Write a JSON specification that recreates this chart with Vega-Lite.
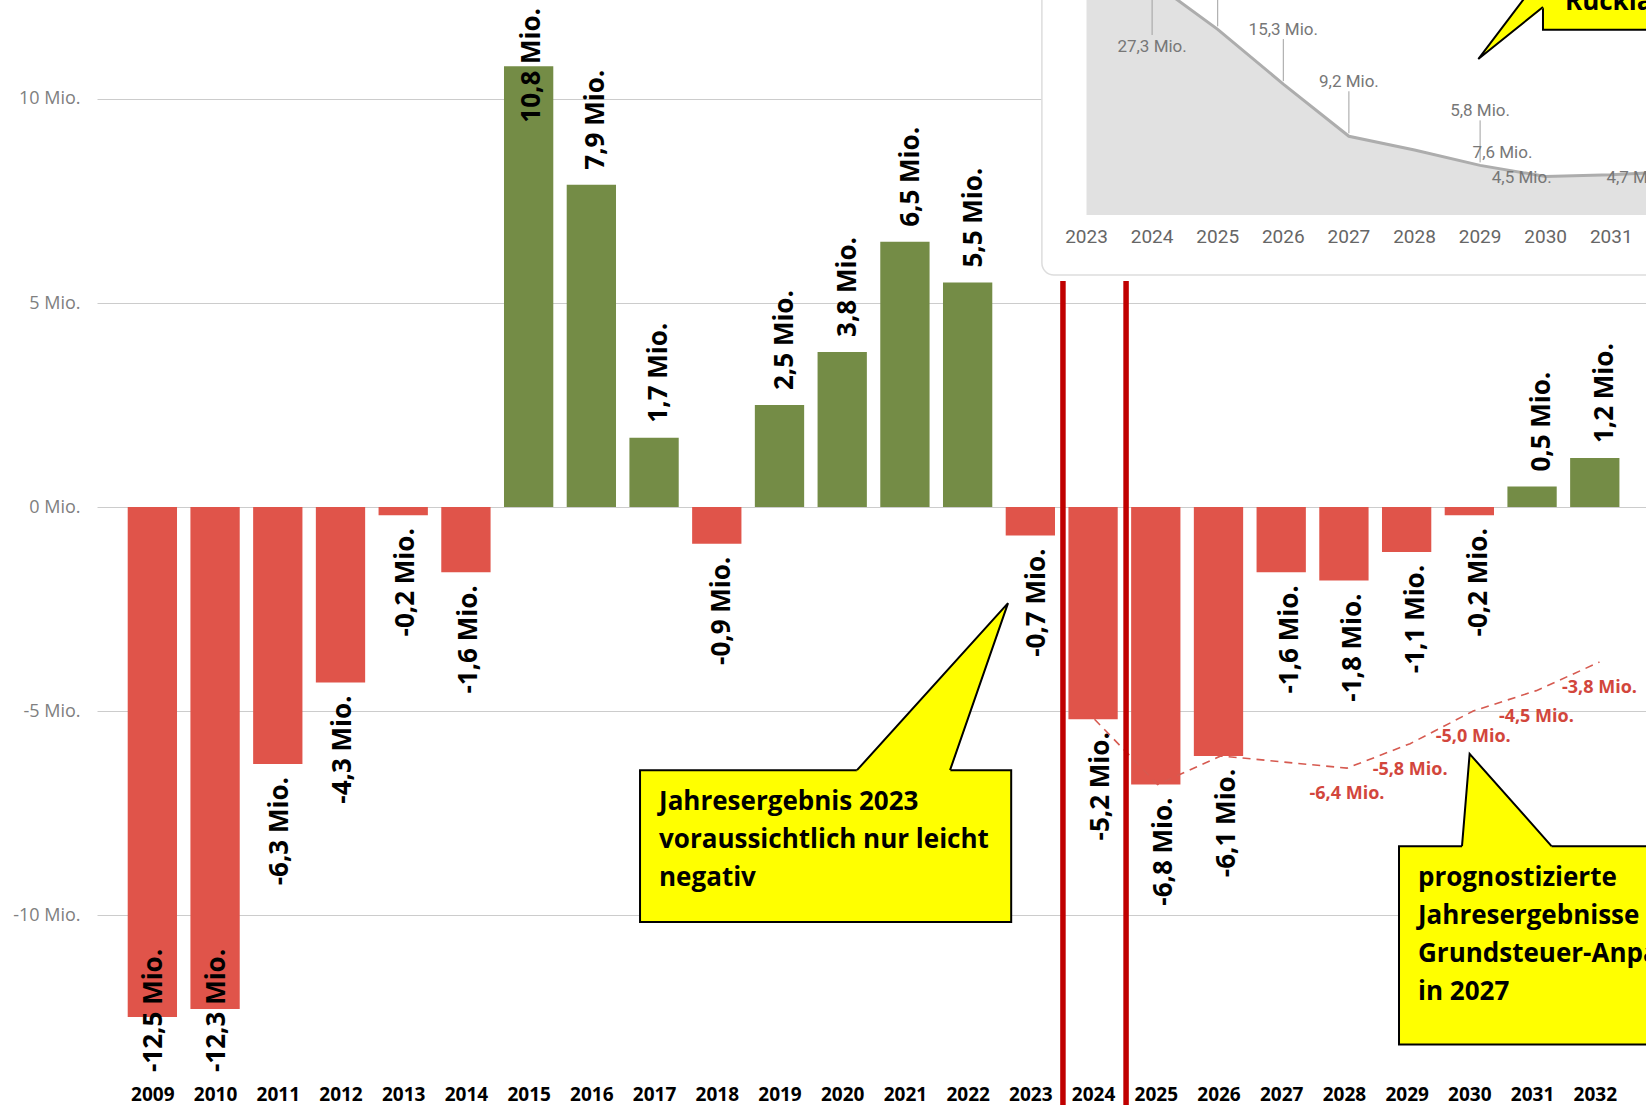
{
  "$schema": "https://vega.github.io/schema/vega-lite/v6.json",
  "width": 1549,
  "height": 1075,
  "padding": {"left": 97, "top": 0, "right": 0, "bottom": 30},
  "autosize": {"type": "none"},
  "background": "white",
  "config": {"view": {"stroke": null}},
  "datasets": {
    "bars": [
      {"year": 2009, "v": -12.5, "label": "-12,5 Mio."},
      {"year": 2010, "v": -12.3, "label": "-12,3 Mio."},
      {"year": 2011, "v": -6.3, "label": "-6,3 Mio."},
      {"year": 2012, "v": -4.3, "label": "-4,3 Mio."},
      {"year": 2013, "v": -0.2, "label": "-0,2 Mio."},
      {"year": 2014, "v": -1.6, "label": "-1,6 Mio."},
      {"year": 2015, "v": 10.8, "label": "10,8 Mio."},
      {"year": 2016, "v": 7.9, "label": "7,9 Mio."},
      {"year": 2017, "v": 1.7, "label": "1,7 Mio."},
      {"year": 2018, "v": -0.9, "label": "-0,9 Mio."},
      {"year": 2019, "v": 2.5, "label": "2,5 Mio."},
      {"year": 2020, "v": 3.8, "label": "3,8 Mio."},
      {"year": 2021, "v": 6.5, "label": "6,5 Mio."},
      {"year": 2022, "v": 5.5, "label": "5,5 Mio."},
      {"year": 2023, "v": -0.7, "label": "-0,7 Mio."},
      {"year": 2024, "v": -5.2, "label": "-5,2 Mio."},
      {"year": 2025, "v": -6.8, "label": "-6,8 Mio."},
      {"year": 2026, "v": -6.1, "label": "-6,1 Mio."},
      {"year": 2027, "v": -1.6, "label": "-1,6 Mio."},
      {"year": 2028, "v": -1.8, "label": "-1,8 Mio."},
      {"year": 2029, "v": -1.1, "label": "-1,1 Mio."},
      {"year": 2030, "v": -0.2, "label": "-0,2 Mio."},
      {"year": 2031, "v": 0.5, "label": "0,5 Mio."},
      {"year": 2032, "v": 1.2, "label": "1,2 Mio."}
    ],
    "forecast": [
      {"year": 2024, "v": -5.2, "label": null},
      {"year": 2025, "v": -6.8, "label": null},
      {"year": 2026, "v": -6.1, "label": null},
      {"year": 2027, "v": -6.25, "label": null},
      {"year": 2028, "v": -6.4, "label": "-6,4 Mio."},
      {"year": 2029, "v": -5.8, "label": "-5,8 Mio."},
      {"year": 2030, "v": -5.0, "label": "-5,0 Mio."},
      {"year": 2031, "v": -4.5, "label": "-4,5 Mio."},
      {"year": 2032, "v": -3.8, "label": "-3,8 Mio."}
    ],
    "inset": [
      {"year": 2023, "v": 33.5, "label": null, "grp": "none"},
      {"year": 2024, "v": 27.3, "label": "27,3 Mio.", "grp": "top"},
      {"year": 2025, "v": 21.7, "label": "21,7 Mio.", "grp": "above"},
      {"year": 2026, "v": 15.3, "label": "15,3 Mio.", "grp": "above"},
      {"year": 2027, "v": 9.2, "label": "9,2 Mio.", "grp": "above"},
      {"year": 2028, "v": 7.6, "label": "7,6 Mio.", "grp": "right"},
      {"year": 2029, "v": 5.8, "label": "5,8 Mio.", "grp": "above"},
      {"year": 2030, "v": 4.5, "label": "4,5 Mio.", "grp": "left"},
      {"year": 2031, "v": 4.7, "label": "4,7 Mio.", "grp": "near"},
      {"year": 2032, "v": 5.1, "label": "5,1 Mio.", "grp": "above"}
    ],
    "insetbox": [{"x1": 2022.32, "x2": 2034, "y1": -7.01, "y2": 30}],
    "rules": [{"x": 2023.5}, {"x": 2024.5}],
    "callouts": [
      {"id": 1, "x1": 2016.8, "x2": 2022.68, "top": -6.45, "bottom": -10.17, "text": "Jahresergebnis 2023\nvoraussichtlich nur leicht\nnegativ"},
      {"id": 2, "x1": 2028.824, "x2": 2034.5, "top": -8.313, "bottom": -13.17, "text": "prognostizierte\nJahresergebnisse\nGrundsteuer-Anpassung\nin 2027"},
      {"id": 3, "x1": 2031.105, "x2": 2034.5, "top": 13.5, "bottom": 11.697, "text": "Rücklagen"}
    ],
    "ptrfill": [
      {"id": 1, "x": 2020.237, "y": -6.45, "y2": -6.5},
      {"id": 1, "x": 2021.711, "y": -3.927, "y2": -6.5},
      {"id": 1, "x": 2022.63, "y": -2.354, "y2": -2.354},
      {"id": 2, "x": 2029.822, "y": -8.31, "y2": -8.36},
      {"id": 2, "x": 2029.943, "y": -6.05, "y2": -8.36},
      {"id": 2, "x": 2031.24, "y": -8.31, "y2": -8.36},
      {"id": 3, "x": 2030.08, "y": 10.978, "y2": 10.978},
      {"id": 3, "x": 2031.15, "y": 13.15, "y2": 12.27}
    ],
    "ptrline": [
      {"id": 1, "i": 0, "x": 2020.237, "y": -6.45},
      {"id": 1, "i": 1, "x": 2022.63, "y": -2.354},
      {"id": 1, "i": 2, "x": 2021.711, "y": -6.45},
      {"id": 2, "i": 0, "x": 2029.822, "y": -8.31},
      {"id": 2, "i": 1, "x": 2029.943, "y": -6.05},
      {"id": 2, "i": 2, "x": 2031.24, "y": -8.31},
      {"id": 3, "i": 0, "x": 2031.105, "y": 13.07},
      {"id": 3, "i": 1, "x": 2030.08, "y": 10.978},
      {"id": 3, "i": 2, "x": 2031.105, "y": 12.254}
    ]
  },
  "layer": [
    {
      "data": {"name": "bars"},
      "mark": {"type": "bar", "width": 49.3},
      "encoding": {
        "x": {
          "field": "year", "type": "quantitative",
          "scale": {"domain": [2008.197, 2032.737], "nice": false, "zero": false},
          "axis": {"title": null, "values": [2009, 2010, 2011, 2012, 2013, 2014, 2015, 2016, 2017, 2018, 2019, 2020, 2021, 2022, 2023, 2024, 2025, 2026, 2027, 2028, 2029, 2030, 2031, 2032], "format": "d", "labelOverlap": false, "labelFlush": false, "labelBound": false, "labelAngle": 0, "domain": false, "ticks": false, "grid": false, "labelFont": "Open Sans", "labelFontWeight": "bold", "labelFontSize": 19, "labelColor": "#000000", "labelPadding": 10}
        },
        "y": {
          "field": "v", "type": "quantitative",
          "scale": {"domain": [-13.92, 12.426], "nice": false, "zero": false},
          "axis": {"title": null, "values": [-10, -5, 0, 5, 10], "labelExpr": "datum.value + ' Mio.'", "domain": false, "ticks": false, "grid": true, "gridColor": "#CCCCCC", "gridWidth": 1, "labelFont": "Open Sans", "labelFontSize": 18, "labelColor": "#808080", "labelPadding": 17}
        },
        "y2": {"datum": 0},
        "color": {"condition": {"test": "datum.v >= 0", "value": "#748C46"}, "value": "#E0544A"}
      }
    },
    {
      "data": {"name": "bars"},
      "transform": [{"filter": "datum.v > 0 && datum.v < 10"}],
      "mark": {"type": "text", "angle": 270, "align": "left", "baseline": "middle", "dx": 15, "dy": 6, "font": "Open Sans", "fontWeight": "bold", "fontSize": 26, "color": "#000000"},
      "encoding": {
        "x": {"field": "year", "type": "quantitative", "scale": {"domain": [2008.197, 2032.737], "nice": false, "zero": false}, "axis": null},
        "y": {"field": "v", "type": "quantitative", "scale": {"domain": [-13.92, 12.426], "nice": false, "zero": false}, "axis": null},
        "text": {"field": "label", "type": "nominal"}
      }
    },
    {
      "data": {"name": "bars"},
      "transform": [{"filter": "datum.v < 0 && datum.v > -10"}],
      "mark": {"type": "text", "angle": 270, "align": "right", "baseline": "middle", "dx": -13, "dy": 6, "font": "Open Sans", "fontWeight": "bold", "fontSize": 26, "color": "#000000"},
      "encoding": {
        "x": {"field": "year", "type": "quantitative", "scale": {"domain": [2008.197, 2032.737], "nice": false, "zero": false}, "axis": null},
        "y": {"field": "v", "type": "quantitative", "scale": {"domain": [-13.92, 12.426], "nice": false, "zero": false}, "axis": null},
        "text": {"field": "label", "type": "nominal"}
      }
    },
    {
      "data": {"name": "bars"},
      "transform": [{"filter": "datum.v >= 10"}],
      "mark": {"type": "text", "angle": 270, "align": "right", "baseline": "middle", "dx": -8, "dy": 6, "font": "Open Sans", "fontWeight": "bold", "fontSize": 26, "color": "#000000"},
      "encoding": {
        "x": {"field": "year", "type": "quantitative", "scale": {"domain": [2008.197, 2032.737], "nice": false, "zero": false}, "axis": null},
        "y": {"datum": 12.426, "type": "quantitative", "scale": {"domain": [-13.92, 12.426], "nice": false, "zero": false}, "axis": null},
        "text": {"field": "label", "type": "nominal"}
      }
    },
    {
      "data": {"name": "bars"},
      "transform": [{"filter": "datum.v <= -10"}],
      "mark": {"type": "text", "angle": 270, "align": "left", "baseline": "middle", "dx": 3, "dy": 6, "font": "Open Sans", "fontWeight": "bold", "fontSize": 26, "color": "#000000"},
      "encoding": {
        "x": {"field": "year", "type": "quantitative", "scale": {"domain": [2008.197, 2032.737], "nice": false, "zero": false}, "axis": null},
        "y": {"datum": -13.92, "type": "quantitative", "scale": {"domain": [-13.92, 12.426], "nice": false, "zero": false}, "axis": null},
        "text": {"field": "label", "type": "nominal"}
      }
    },
    {
      "data": {"name": "forecast"},
      "mark": {"type": "line", "color": "#D65A50", "strokeWidth": 1.6, "strokeDash": [8, 6]},
      "encoding": {
        "x": {"field": "year", "type": "quantitative", "scale": {"domain": [2008.197, 2032.737], "nice": false, "zero": false}, "axis": null},
        "y": {"field": "v", "type": "quantitative", "scale": {"domain": [-13.92, 12.426], "nice": false, "zero": false}, "axis": null}
      }
    },
    {
      "data": {"name": "forecast"},
      "transform": [{"filter": "isValid(datum.label)"}],
      "mark": {"type": "text", "align": "center", "baseline": "middle", "dy": 26, "font": "Open Sans", "fontWeight": "bold", "fontSize": 18, "color": "#D2463C"},
      "encoding": {
        "x": {"field": "year", "type": "quantitative", "scale": {"domain": [2008.197, 2032.737], "nice": false, "zero": false}, "axis": null},
        "y": {"field": "v", "type": "quantitative", "scale": {"domain": [-13.92, 12.426], "nice": false, "zero": false}, "axis": null},
        "text": {"field": "label", "type": "nominal"}
      }
    },
    {
      "data": {"name": "insetbox"},
      "mark": {"type": "rect", "fill": "#FFFFFF", "stroke": "#DDDDDD", "strokeWidth": 1.5, "cornerRadius": 12},
      "encoding": {
        "x": {"field": "x1", "type": "quantitative", "scale": {"domain": [2007.916, 2031.529], "nice": false, "zero": false}, "axis": null},
        "x2": {"field": "x2"},
        "y": {"field": "y1", "type": "quantitative", "scale": {"domain": [-100.53, 25.13], "nice": false, "zero": false}, "axis": null},
        "y2": {"field": "y2"}
      }
    },
    {
      "data": {"name": "inset"},
      "mark": {"type": "area", "color": "#E1E1E1"},
      "encoding": {
        "x": {"field": "year", "type": "quantitative", "scale": {"domain": [2007.916, 2031.529], "nice": false, "zero": false}, "axis": null},
        "y": {"field": "v", "type": "quantitative", "scale": {"domain": [-100.53, 25.13], "nice": false, "zero": false}, "axis": null, "stack": null},
        "y2": {"datum": 0}
      }
    },
    {
      "data": {"name": "inset"},
      "mark": {"type": "line", "color": "#ADADAD", "strokeWidth": 3},
      "encoding": {
        "x": {"field": "year", "type": "quantitative", "scale": {"domain": [2007.916, 2031.529], "nice": false, "zero": false}, "axis": null},
        "y": {"field": "v", "type": "quantitative", "scale": {"domain": [-100.53, 25.13], "nice": false, "zero": false}, "axis": null}
      }
    },
    {
      "data": {"name": "inset"},
      "transform": [{"filter": "datum.grp == 'above'"}],
      "mark": {"type": "rule", "color": "#A0A0A0", "strokeWidth": 1, "yOffset": -3, "y2Offset": -45},
      "encoding": {
        "x": {"field": "year", "type": "quantitative", "scale": {"domain": [2007.916, 2031.529], "nice": false, "zero": false}, "axis": null},
        "y": {"field": "v", "type": "quantitative", "scale": {"domain": [-100.53, 25.13], "nice": false, "zero": false}, "axis": null},
        "y2": {"field": "v"}
      }
    },
    {
      "data": {"name": "inset"},
      "transform": [{"filter": "datum.grp == 'top'"}],
      "mark": {"type": "rule", "color": "#A0A0A0", "strokeWidth": 1},
      "encoding": {
        "x": {"field": "year", "type": "quantitative", "scale": {"domain": [2007.916, 2031.529], "nice": false, "zero": false}, "axis": null},
        "y": {"field": "v", "type": "quantitative", "scale": {"domain": [-100.53, 25.13], "nice": false, "zero": false}, "axis": null},
        "y2": {"datum": 21.04}
      }
    },
    {
      "data": {"name": "inset"},
      "transform": [{"filter": "datum.grp == 'above'"}],
      "mark": {"type": "text", "align": "center", "baseline": "middle", "dy": -54, "font": "Roboto", "fontSize": 17, "color": "#777777"},
      "encoding": {
        "x": {"field": "year", "type": "quantitative", "scale": {"domain": [2007.916, 2031.529], "nice": false, "zero": false}, "axis": null},
        "y": {"field": "v", "type": "quantitative", "scale": {"domain": [-100.53, 25.13], "nice": false, "zero": false}, "axis": null},
        "text": {"field": "label", "type": "nominal"}
      }
    },
    {
      "data": {"name": "inset"},
      "transform": [{"filter": "datum.grp == 'top'"}],
      "mark": {"type": "text", "align": "center", "baseline": "middle", "font": "Roboto", "fontSize": 17, "color": "#777777"},
      "encoding": {
        "x": {"field": "year", "type": "quantitative", "scale": {"domain": [2007.916, 2031.529], "nice": false, "zero": false}, "axis": null},
        "y": {"datum": 19.64, "type": "quantitative", "scale": {"domain": [-100.53, 25.13], "nice": false, "zero": false}, "axis": null},
        "text": {"field": "label", "type": "nominal"}
      }
    },
    {
      "data": {"name": "inset"},
      "transform": [{"filter": "datum.grp == 'right'"}],
      "mark": {"type": "text", "align": "center", "baseline": "middle", "dx": 88, "dy": 3, "font": "Roboto", "fontSize": 17, "color": "#777777"},
      "encoding": {
        "x": {"field": "year", "type": "quantitative", "scale": {"domain": [2007.916, 2031.529], "nice": false, "zero": false}, "axis": null},
        "y": {"field": "v", "type": "quantitative", "scale": {"domain": [-100.53, 25.13], "nice": false, "zero": false}, "axis": null},
        "text": {"field": "label", "type": "nominal"}
      }
    },
    {
      "data": {"name": "inset"},
      "transform": [{"filter": "datum.grp == 'left'"}],
      "mark": {"type": "text", "align": "center", "baseline": "middle", "dx": -24, "dy": 2, "font": "Roboto", "fontSize": 17, "color": "#777777"},
      "encoding": {
        "x": {"field": "year", "type": "quantitative", "scale": {"domain": [2007.916, 2031.529], "nice": false, "zero": false}, "axis": null},
        "y": {"field": "v", "type": "quantitative", "scale": {"domain": [-100.53, 25.13], "nice": false, "zero": false}, "axis": null},
        "text": {"field": "label", "type": "nominal"}
      }
    },
    {
      "data": {"name": "inset"},
      "transform": [{"filter": "datum.grp == 'near'"}],
      "mark": {"type": "text", "align": "center", "baseline": "middle", "dx": 25, "dy": 3, "font": "Roboto", "fontSize": 17, "color": "#777777"},
      "encoding": {
        "x": {"field": "year", "type": "quantitative", "scale": {"domain": [2007.916, 2031.529], "nice": false, "zero": false}, "axis": null},
        "y": {"field": "v", "type": "quantitative", "scale": {"domain": [-100.53, 25.13], "nice": false, "zero": false}, "axis": null},
        "text": {"field": "label", "type": "nominal"}
      }
    },
    {
      "data": {"name": "inset"},
      "mark": {"type": "text", "align": "center", "baseline": "middle", "font": "Roboto", "fontSize": 19, "color": "#666666"},
      "encoding": {
        "x": {"field": "year", "type": "quantitative", "scale": {"domain": [2007.916, 2031.529], "nice": false, "zero": false}, "axis": null},
        "y": {"datum": -2.57, "type": "quantitative", "scale": {"domain": [-100.53, 25.13], "nice": false, "zero": false}, "axis": null},
        "text": {"field": "year", "type": "nominal"}
      }
    },
    {
      "data": {"name": "rules"},
      "mark": {"type": "rule", "color": "#C00000", "strokeWidth": 5.5},
      "encoding": {
        "x": {"field": "x", "type": "quantitative", "scale": {"domain": [2008.197, 2032.737], "nice": false, "zero": false}, "axis": null},
        "y": {"datum": 5.54, "type": "quantitative", "scale": {"domain": [-13.92, 12.426], "nice": false, "zero": false}, "axis": null},
        "y2": {"datum": -14.7}
      }
    },
    {
      "data": {"name": "callouts"},
      "mark": {"type": "rect", "fill": "#FFFF00", "stroke": "#000000", "strokeWidth": 2},
      "encoding": {
        "x": {"field": "x1", "type": "quantitative", "scale": {"domain": [2008.197, 2032.737], "nice": false, "zero": false}, "axis": null},
        "x2": {"field": "x2"},
        "y": {"field": "top", "type": "quantitative", "scale": {"domain": [-13.92, 12.426], "nice": false, "zero": false}, "axis": null},
        "y2": {"field": "bottom"}
      }
    },
    {
      "data": {"name": "ptrfill"},
      "mark": {"type": "area", "color": "#FFFF00"},
      "encoding": {
        "x": {"field": "x", "type": "quantitative", "scale": {"domain": [2008.197, 2032.737], "nice": false, "zero": false}, "axis": null},
        "y": {"field": "y", "type": "quantitative", "scale": {"domain": [-13.92, 12.426], "nice": false, "zero": false}, "axis": null, "stack": null},
        "y2": {"field": "y2"},
        "detail": {"field": "id", "type": "nominal"}
      }
    },
    {
      "data": {"name": "ptrline"},
      "mark": {"type": "line", "color": "#000000", "strokeWidth": 2},
      "encoding": {
        "x": {"field": "x", "type": "quantitative", "scale": {"domain": [2008.197, 2032.737], "nice": false, "zero": false}, "axis": null},
        "y": {"field": "y", "type": "quantitative", "scale": {"domain": [-13.92, 12.426], "nice": false, "zero": false}, "axis": null},
        "order": {"field": "i", "type": "quantitative"},
        "detail": {"field": "id", "type": "nominal"}
      }
    },
    {
      "data": {"name": "callouts"},
      "transform": [{"filter": "datum.id < 3"}],
      "mark": {"type": "text", "align": "left", "baseline": "top", "dx": 19, "dy": 19, "lineBreak": "\n", "lineHeight": 38, "font": "Open Sans", "fontWeight": "bold", "fontSize": 26, "color": "#000000"},
      "encoding": {
        "x": {"field": "x1", "type": "quantitative", "scale": {"domain": [2008.197, 2032.737], "nice": false, "zero": false}, "axis": null},
        "y": {"field": "top", "type": "quantitative", "scale": {"domain": [-13.92, 12.426], "nice": false, "zero": false}, "axis": null},
        "text": {"field": "text", "type": "nominal"}
      }
    },
    {
      "data": {"name": "callouts"},
      "transform": [{"filter": "datum.id == 3"}],
      "mark": {"type": "text", "align": "left", "baseline": "alphabetic", "dx": 22, "dy": -20, "font": "Open Sans", "fontWeight": "bold", "fontSize": 26, "color": "#000000"},
      "encoding": {
        "x": {"field": "x1", "type": "quantitative", "scale": {"domain": [2008.197, 2032.737], "nice": false, "zero": false}, "axis": null},
        "y": {"field": "bottom", "type": "quantitative", "scale": {"domain": [-13.92, 12.426], "nice": false, "zero": false}, "axis": null},
        "text": {"field": "text", "type": "nominal"}
      }
    }
  ],
  "resolve": {"scale": {"x": "independent", "y": "independent"}}
}
